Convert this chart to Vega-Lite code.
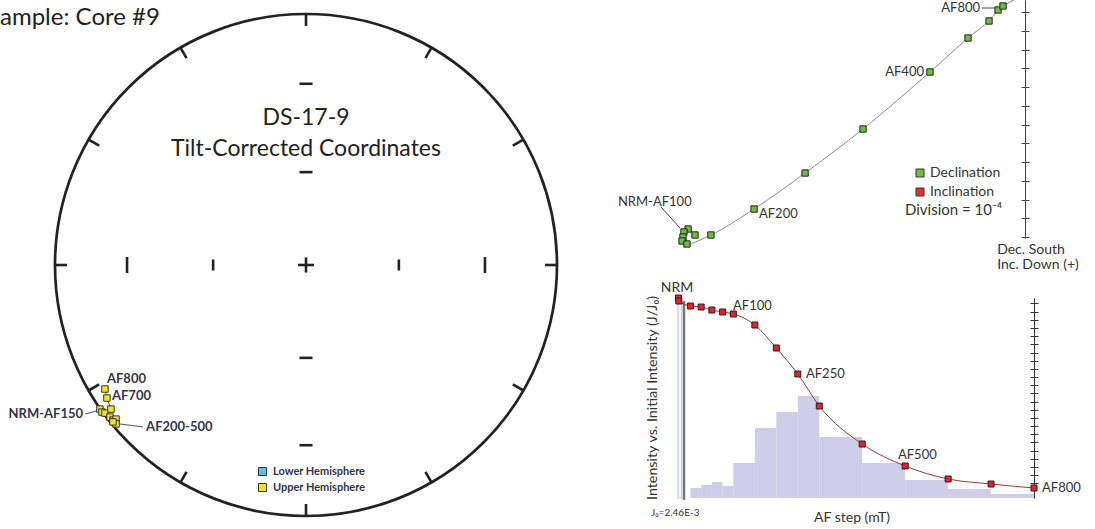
{
  "$schema": "https://vega.github.io/schema/vega-lite/v6.json",
  "padding": 0,
  "autosize": {"type": "pad"},
  "background": "white",
  "bounds": "flush",
  "spacing": 10,
  "resolve": {"scale": {"color": "independent"}, "legend": {"color": "independent"}},
  "config": {"view": {"stroke": null}, "font": "Lato", "text": {"font": "Lato"}},
  "hconcat": [
    {
      "width": 605,
      "height": 529,
      "encoding": {
        "x": {"field": "x", "type": "quantitative", "scale": {"domain": [-1.2191, 1.1912], "nice": false, "zero": false}, "axis": null},
        "y": {"field": "y", "type": "quantitative", "scale": {"domain": [-1.0518, 1.0558], "nice": false, "zero": false}, "axis": null}
      },
      "layer": [
        {
          "data": {"values": [{"x": 0, "y": 0}]},
          "mark": {"type": "point", "shape": "circle", "size": 252004, "filled": false, "stroke": "#222", "strokeWidth": 2.7, "opacity": 1}
        },
        {
          "data": {"values": [
            {"x": 0, "y": 1, "x2": 0, "y2": 0.952},
            {"x": 0.5, "y": 0.866, "x2": 0.476, "y2": 0.824},
            {"x": 0.866, "y": 0.5, "x2": 0.824, "y2": 0.476},
            {"x": 1, "y": 0, "x2": 0.952, "y2": 0},
            {"x": 0.866, "y": -0.5, "x2": 0.824, "y2": -0.476},
            {"x": 0.5, "y": -0.866, "x2": 0.476, "y2": -0.824},
            {"x": 0, "y": -1, "x2": 0, "y2": -0.952},
            {"x": -0.5, "y": -0.866, "x2": -0.476, "y2": -0.824},
            {"x": -0.866, "y": -0.5, "x2": -0.824, "y2": -0.476},
            {"x": -1, "y": 0, "x2": -0.952, "y2": 0},
            {"x": -0.866, "y": 0.5, "x2": -0.824, "y2": 0.476},
            {"x": -0.5, "y": 0.866, "x2": -0.476, "y2": 0.824},
            {"x": -0.713, "y": -0.032, "x2": -0.713, "y2": 0.032},
            {"x": -0.37, "y": -0.022, "x2": -0.37, "y2": 0.022},
            {"x": 0.37, "y": -0.022, "x2": 0.37, "y2": 0.022},
            {"x": 0.713, "y": -0.032, "x2": 0.713, "y2": 0.032},
            {"x": -0.032, "y": 0, "x2": 0.032, "y2": 0},
            {"x": 0, "y": -0.03, "x2": 0, "y2": 0.03},
            {"x": -0.026, "y": 0.722, "x2": 0.026, "y2": 0.722},
            {"x": -0.026, "y": 0.37, "x2": 0.026, "y2": 0.37},
            {"x": -0.026, "y": -0.37, "x2": 0.026, "y2": -0.37},
            {"x": -0.026, "y": -0.718, "x2": 0.026, "y2": -0.718}
          ]},
          "mark": {"type": "rule", "stroke": "#222", "strokeWidth": 2.6},
          "encoding": {"x2": {"field": "x2"}, "y2": {"field": "y2"}}
        },
        {
          "data": {"values": [
            {"x": -0.88, "y": -0.594, "x2": -0.821, "y2": -0.578},
            {"x": -0.745, "y": -0.633, "x2": -0.649, "y2": -0.645},
            {"x": -0.801, "y": -0.494, "x2": -0.793, "y2": -0.53},
            {"x": -0.793, "y": -0.53, "x2": -0.777, "y2": -0.574}
          ]},
          "mark": {"type": "rule", "stroke": "#555", "strokeWidth": 1},
          "encoding": {"x2": {"field": "x2"}, "y2": {"field": "y2"}}
        },
        {
          "data": {"values": [
            {"step": "AF800", "x": -0.801, "y": -0.494, "hemisphere": "Upper Hemisphere"},
            {"step": "AF700", "x": -0.793, "y": -0.53, "hemisphere": "Upper Hemisphere"},
            {"step": "NRM", "x": -0.821, "y": -0.574, "hemisphere": "Upper Hemisphere"},
            {"step": "AF50", "x": -0.813, "y": -0.586, "hemisphere": "Upper Hemisphere"},
            {"step": "AF100", "x": -0.801, "y": -0.59, "hemisphere": "Upper Hemisphere"},
            {"step": "AF150", "x": -0.777, "y": -0.574, "hemisphere": "Upper Hemisphere"},
            {"step": "AF200", "x": -0.781, "y": -0.606, "hemisphere": "Upper Hemisphere"},
            {"step": "AF250", "x": -0.769, "y": -0.618, "hemisphere": "Upper Hemisphere"},
            {"step": "AF300", "x": -0.757, "y": -0.614, "hemisphere": "Upper Hemisphere"},
            {"step": "AF400", "x": -0.757, "y": -0.633, "hemisphere": "Upper Hemisphere"},
            {"step": "AF500", "x": -0.769, "y": -0.625, "hemisphere": "Upper Hemisphere"}
          ]},
          "mark": {"type": "point", "shape": "square", "filled": true, "size": 42, "stroke": "#333", "strokeWidth": 1, "opacity": 1},
          "encoding": {
            "color": {
              "field": "hemisphere", "type": "nominal",
              "scale": {"domain": ["Lower Hemisphere", "Upper Hemisphere"], "range": ["#5bc2e7", "#f2e424"]},
              "legend": {"orient": "none", "legendX": 257, "legendY": 466, "title": null, "padding": 0, "symbolType": "square", "symbolSize": 64, "symbolStrokeColor": "#333", "symbolStrokeWidth": 1, "symbolOpacity": 1, "labelFont": "Lato", "labelFontSize": 11, "labelFontWeight": "bold", "labelColor": "#34344a", "rowPadding": 3, "labelOffset": 5}
            }
          }
        },
        {
          "data": {"values": [
            {"label": "DS-17-9", "x": 0, "y": 0.586},
            {"label": "Tilt-Corrected Coordinates", "x": 0, "y": 0.462}
          ]},
          "mark": {"type": "text", "fontSize": 23, "color": "#222", "align": "center", "baseline": "middle"},
          "encoding": {"text": {"field": "label"}}
        },
        {
          "data": {"values": [{"label": "ample: Core #9", "x": -1.2191, "y": 0.984}]},
          "mark": {"type": "text", "fontSize": 24, "color": "#222", "align": "left", "baseline": "middle"},
          "encoding": {"text": {"field": "label"}}
        },
        {
          "data": {"values": [
            {"label": "AF800", "x": -0.793, "y": -0.454},
            {"label": "AF700", "x": -0.773, "y": -0.522},
            {"label": "AF200-500", "x": -0.637, "y": -0.645}
          ]},
          "mark": {"type": "text", "fontSize": 13, "fontWeight": "bold", "color": "#34344a", "align": "left", "baseline": "middle"},
          "encoding": {"text": {"field": "label"}}
        },
        {
          "data": {"values": [{"label": "NRM-AF150", "x": -0.888, "y": -0.594}]},
          "mark": {"type": "text", "fontSize": 13, "fontWeight": "bold", "color": "#34344a", "align": "right", "baseline": "middle"},
          "encoding": {"text": {"field": "label"}}
        }
      ]
    },
    {
      "vconcat": [
        {
          "width": 480,
          "height": 238,
          "resolve": {"axis": {"y": "independent"}},
          "encoding": {
            "x": {"field": "x", "type": "quantitative", "scale": {"domain": [-21.867, 3.733], "nice": false, "zero": false}, "axis": null},
            "y": {"field": "y", "type": "quantitative", "scale": {"domain": [-13.053, -0.36], "nice": false, "zero": false}, "axis": null}
          },
          "layer": [
            {
              "data": {"values": [
                {"x": -2.293, "y": -0.787, "x2": -1.333, "y2": -0.787},
                {"x": -19.41, "y": -11.4, "x2": -18.4, "y2": -12.52}
              ]},
              "mark": {"type": "rule", "stroke": "#444", "strokeWidth": 1},
              "encoding": {"x2": {"field": "x2"}, "y2": {"field": "y2"}}
            },
            {
              "data": {"values": [
                {"i": 14, "x": -1.173, "y": -0.68},
                {"i": 15, "x": 0, "y": 0}
              ]},
              "mark": {"type": "line", "color": "#8a8a8a", "strokeWidth": 1, "clip": true},
              "encoding": {"order": {"field": "i", "type": "quantitative"}}
            },
            {
              "data": {"name": "zij", "values": [
                {"i": 0, "step": "NRM", "x": -17.6, "y": -12.893, "component": "Declination"},
                {"i": 1, "step": "AF20", "x": -17.97, "y": -12.573, "component": "Declination"},
                {"i": 2, "step": "AF40", "x": -18.19, "y": -12.733, "component": "Declination"},
                {"i": 3, "step": "AF60", "x": -18.24, "y": -13.0, "component": "Declination"},
                {"i": 4, "step": "AF80", "x": -18.29, "y": -13.213, "component": "Declination"},
                {"i": 5, "step": "AF100", "x": -18.03, "y": -13.373, "component": "Declination"},
                {"i": 6, "step": "AF150", "x": -16.75, "y": -12.893, "component": "Declination"},
                {"i": 7, "step": "AF200", "x": -14.45, "y": -11.507, "component": "Declination"},
                {"i": 8, "step": "AF250", "x": -11.73, "y": -9.587, "component": "Declination"},
                {"i": 9, "step": "AF300", "x": -8.64, "y": -7.24, "component": "Declination"},
                {"i": 10, "step": "AF400", "x": -5.067, "y": -4.2, "component": "Declination"},
                {"i": 11, "step": "AF500", "x": -3.04, "y": -2.387, "component": "Declination"},
                {"i": 12, "step": "AF600", "x": -1.92, "y": -1.48, "component": "Declination"},
                {"i": 13, "step": "AF700", "x": -1.44, "y": -0.893, "component": "Declination"},
                {"i": 14, "step": "AF800", "x": -1.173, "y": -0.68, "component": "Declination"}
              ]},
              "mark": {"type": "line", "color": "#8a8a8a", "strokeWidth": 1, "interpolate": "catmull-rom"},
              "encoding": {
                "order": {"field": "i", "type": "quantitative"},
                "y": {"field": "y", "type": "quantitative", "scale": {"domain": [-13.053, -0.36], "nice": false, "zero": false},
                  "axis": {"orient": "left", "offset": -410, "values": [-1, -2, -3, -4, -5, -6, -7, -8, -9, -10, -11, -12, -13], "labels": false, "title": null, "grid": false, "tickSize": 4, "tickColor": "#444", "domainColor": "#444", "domainWidth": 1}}
              }
            },
            {
              "data": {"name": "zij"},
              "mark": {"type": "point", "shape": "square", "filled": true, "size": 40, "stroke": "#222", "strokeWidth": 1, "opacity": 1},
              "encoding": {
                "y": {"field": "y", "type": "quantitative", "scale": {"domain": [-13.053, -0.36], "nice": false, "zero": false},
                  "axis": {"orient": "right", "offset": -70, "values": [-1, -2, -3, -4, -5, -6, -7, -8, -9, -10, -11, -12, -13], "labels": false, "title": null, "grid": false, "tickSize": 4, "tickColor": "#444", "domainColor": "#444", "domainWidth": 1}},
                "color": {
                  "field": "component", "type": "nominal",
                  "scale": {"domain": ["Declination", "Inclination"], "range": ["#6cbf3c", "#e8302a"]},
                  "legend": {"orient": "none", "legendX": 298, "legendY": 166, "title": null, "padding": 0, "symbolType": "square", "symbolSize": 64, "symbolStrokeColor": "#333", "symbolStrokeWidth": 1, "symbolOpacity": 1, "labelFont": "Lato", "labelFontSize": 14, "labelColor": "#333", "rowPadding": 5, "labelOffset": 3}
                }
              }
            },
            {
              "data": {"values": [
                {"label": "AF800", "x": -2.4, "y": -0.787},
                {"label": "AF400", "x": -5.387, "y": -4.2}
              ]},
              "mark": {"type": "text", "fontSize": 13, "color": "#333", "align": "right", "baseline": "middle"},
              "encoding": {"text": {"field": "label"}}
            },
            {
              "data": {"values": [
                {"label": "AF200", "x": -14.19, "y": -11.77},
                {"label": "NRM-AF100", "x": -21.71, "y": -11.13}
              ]},
              "mark": {"type": "text", "fontSize": 13, "color": "#333", "align": "left", "baseline": "middle"},
              "encoding": {"text": {"field": "label"}}
            },
            {
              "data": {"values": [{"label": "Division = 10⁻⁴", "x": -6.4, "y": -11.56}]},
              "mark": {"type": "text", "fontSize": 15, "fontWeight": "normal", "color": "#333", "align": "left", "baseline": "middle"},
              "encoding": {"text": {"field": "label"}}
            },
            {
              "data": {"values": [
                {"label": "Dec. South", "x": 0.32, "y": -13.69},
                {"label": "Inc. Down (+)", "x": 0.69, "y": -14.49}
              ]},
              "mark": {"type": "text", "fontSize": 14, "color": "#333", "align": "center", "baseline": "middle"},
              "encoding": {"text": {"field": "label"}}
            }
          ]
        },
        {
          "width": 480,
          "height": 200,
          "resolve": {"axis": {"y": "independent"}},
          "encoding": {
            "x": {"field": "af", "type": "quantitative", "scale": {"domain": [-175.6, 942.0], "nice": false, "zero": false}, "axis": null},
            "y": {"field": "j", "type": "quantitative", "scale": {"domain": [0, 1], "nice": false, "zero": false}, "axis": null}
          },
          "layer": [
            {
              "data": {"values": [{"af": -29.2, "af2": -19.9, "j": 1.0}]},
              "mark": {"type": "rect", "fill": "#f2f2fa", "stroke": "#b4b4d4", "strokeWidth": 0.8},
              "encoding": {"x2": {"field": "af2"}, "y2": {"datum": 0}}
            },
            {
              "data": {"values": [
                {"af": 0, "af2": 25, "j": 0.05},
                {"af": 25, "af2": 50, "j": 0.065},
                {"af": 50, "af2": 75, "j": 0.08},
                {"af": 75, "af2": 100, "j": 0.06},
                {"af": 100, "af2": 150, "j": 0.175},
                {"af": 150, "af2": 200, "j": 0.35},
                {"af": 200, "af2": 250, "j": 0.43},
                {"af": 250, "af2": 300, "j": 0.51},
                {"af": 300, "af2": 400, "j": 0.305},
                {"af": 400, "af2": 500, "j": 0.175},
                {"af": 500, "af2": 600, "j": 0.09},
                {"af": 600, "af2": 700, "j": 0.045},
                {"af": 700, "af2": 800, "j": 0.02}
              ]},
              "mark": {"type": "rect", "fill": "#cfcde8"},
              "encoding": {"x2": {"field": "af2"}, "y2": {"datum": 0}}
            },
            {
              "data": {"values": [{"af": -14.9, "j": 0.985, "j2": -0.01}]},
              "mark": {"type": "rule", "stroke": "#777", "strokeWidth": 2.5},
              "encoding": {"y2": {"field": "j2"}}
            },
            {
              "data": {"name": "inten", "values": [
                {"i": 0, "step": "NRM", "af": -28, "j": 1.0},
                {"i": 1, "step": "NRM", "af": -27, "j": 0.985},
                {"i": 2, "step": "AF0", "af": 0, "j": 0.96},
                {"i": 3, "step": "AF25", "af": 25, "j": 0.955},
                {"i": 4, "step": "AF50", "af": 50, "j": 0.94},
                {"i": 5, "step": "AF75", "af": 75, "j": 0.93},
                {"i": 6, "step": "AF100", "af": 100, "j": 0.92},
                {"i": 7, "step": "AF150", "af": 150, "j": 0.865},
                {"i": 8, "step": "AF200", "af": 200, "j": 0.75},
                {"i": 9, "step": "AF250", "af": 250, "j": 0.62},
                {"i": 10, "step": "AF300", "af": 300, "j": 0.46},
                {"i": 11, "step": "AF400", "af": 400, "j": 0.27},
                {"i": 12, "step": "AF500", "af": 500, "j": 0.16},
                {"i": 13, "step": "AF600", "af": 600, "j": 0.095},
                {"i": 14, "step": "AF700", "af": 700, "j": 0.07},
                {"i": 15, "step": "AF800", "af": 800, "j": 0.05}
              ]},
              "mark": {"type": "line", "color": "#a83232", "strokeWidth": 1, "interpolate": "monotone"},
              "encoding": {
                "order": {"field": "i", "type": "quantitative"},
                "y": {"field": "j", "type": "quantitative", "scale": {"domain": [0, 1], "nice": false, "zero": false},
                  "axis": {"orient": "left", "offset": -419, "values": [0.073, 0.114, 0.155, 0.196, 0.237, 0.278, 0.318, 0.359, 0.4, 0.441, 0.482, 0.523, 0.564, 0.605, 0.646, 0.687, 0.727, 0.768, 0.809, 0.85, 0.891, 0.932, 0.973], "labels": false, "title": null, "grid": false, "tickSize": 4, "tickColor": "#333", "domainColor": "#333", "domainWidth": 1}}
              }
            },
            {
              "data": {"name": "inten"},
              "mark": {"type": "point", "shape": "square", "filled": true, "size": 36, "color": "#e8202a", "stroke": "#222", "strokeWidth": 1, "opacity": 1},
              "encoding": {
                "y": {"field": "j", "type": "quantitative", "scale": {"domain": [0, 1], "nice": false, "zero": false},
                  "axis": {"orient": "right", "offset": -61, "values": [0.073, 0.114, 0.155, 0.196, 0.237, 0.278, 0.318, 0.359, 0.4, 0.441, 0.482, 0.523, 0.564, 0.605, 0.646, 0.687, 0.727, 0.768, 0.809, 0.85, 0.891, 0.932, 0.973], "labels": false, "title": null, "grid": false, "tickSize": 4, "tickColor": "#333", "domainColor": "#333", "domainWidth": 1}}
              }
            },
            {
              "data": {"values": [
                {"label": "AF100", "af": 99.1, "j": 0.96},
                {"label": "AF250", "af": 269, "j": 0.62},
                {"label": "AF500", "af": 483.2, "j": 0.215},
                {"label": "AF800", "af": 818.6, "j": 0.05}
              ]},
              "mark": {"type": "text", "fontSize": 13, "color": "#333", "align": "left", "baseline": "middle"},
              "encoding": {"text": {"field": "label"}}
            },
            {
              "data": {"values": [{"label": "J₀=2.46E-3", "af": -91.7, "j": -0.075}]},
              "mark": {"type": "text", "fontSize": 10, "color": "#333", "align": "left", "baseline": "middle"},
              "encoding": {"text": {"field": "label"}}
            },
            {
              "data": {"values": [
                {"label": "NRM", "af": -31.2, "j": 1.05},
                {"label": "AF step (mT)", "af": 376.3, "j": -0.1}
              ]},
              "mark": {"type": "text", "fontSize": 14, "color": "#333", "align": "center", "baseline": "middle"},
              "encoding": {"text": {"field": "label"}}
            },
            {
              "data": {"values": [{"label": "Intensity vs. Initial Intensity (J/J₀)", "af": -87.1, "j": 0.5}]},
              "mark": {"type": "text", "fontSize": 14.3, "color": "#333", "align": "center", "baseline": "middle", "angle": 270},
              "encoding": {"text": {"field": "label"}}
            }
          ]
        }
      ],
      "spacing": 60,
      "bounds": "flush"
    }
  ]
}
